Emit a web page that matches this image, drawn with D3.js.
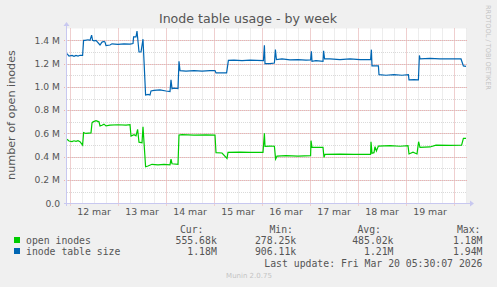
<!DOCTYPE html>
<html><head>
<meta charset="UTF-8">
<title>Inode table usage - by week</title>
<script src="https://cdnjs.cloudflare.com/ajax/libs/d3/7.8.5/d3.min.js"></script>
<style>
  body { margin: 0; background: #f0f0f0; }
  svg text { fill: #555; }
</style>
</head>
<body>
<div id="chart"></div>
<script>
// hours from 12 mar 00:00, value in millions
const openInodes = [
  [-1.5,0.55],[-0.5,0.535],[1,0.53],[2,0.537],[3,0.532],[4,0.538],[5,0.53],[6.3,0.50],[6.8,0.607],[8,0.60],[10.5,0.605],
  [11,0.69],[11.5,0.70],[13,0.71],[14.5,0.70],[15,0.665],[16,0.67],[17,0.68],[18,0.665],[20,0.672],[24,0.675],[28,0.672],
  [30,0.675],[30.5,0.578],[32,0.59],[33,0.58],[33.8,0.636],[34.5,0.525],[36,0.52],[36.5,0.658],[37.8,0.314],[39,0.32],
  [41,0.335],[44,0.33],[47,0.335],[50,0.33],[50.5,0.38],[51,0.34],[54,0.335],[54.5,0.587],[56,0.59],[62,0.585],[68,0.587],
  [72.5,0.585],[73,0.435],[76,0.432],[78.5,0.385],[79,0.438],[85,0.44],[90,0.437],[96.5,0.438],[97.2,0.601],[97.5,0.49],
  [100,0.492],[102.2,0.49],[102.8,0.38],[103.5,0.405],[108,0.41],[114,0.405],[120.3,0.41],[120.5,0.538],[121,0.481],
  [126.5,0.481],[127,0.395],[127.5,0.42],[135,0.422],[142,0.42],[150.3,0.421],[150.5,0.529],[151,0.43],[152,0.435],
  [152.5,0.487],[153.2,0.45],[154.2,0.492],[160,0.495],[165,0.49],[169,0.495],[169.5,0.424],[171.5,0.44],[173.5,0.424],
  [174.3,0.529],[175,0.481],[180,0.484],[183,0.50],[190,0.498],[195.8,0.50],[196.7,0.558],[198,0.558]
];
const tableSize = [
  [-1.5,1.285],[-0.5,1.265],[1,1.27],[2,1.262],[3,1.27],[4,1.265],[5,1.272],[6.3,1.27],[6.8,1.40],[7.5,1.40],[9,1.405],
  [10,1.40],[10.8,1.445],[11.3,1.40],[12,1.395],[13,1.40],[15,1.36],[16,1.385],[17,1.39],[17.5,1.385],[18,1.355],[20,1.36],
  [21,1.37],[24,1.365],[27,1.37],[30,1.368],[31.5,1.372],[31.8,1.43],[33,1.43],[33.5,1.48],[34.5,1.30],[35.5,1.30],
  [36.5,1.41],[37.8,0.93],[39,0.935],[40,0.93],[40.5,0.965],[42,0.97],[45,0.975],[48,0.965],[50,0.96],[50.5,1.06],
  [51,0.985],[52,0.99],[54,0.985],[54.5,1.22],[55,1.14],[58,1.135],[62,1.14],[66,1.135],[70,1.14],[72.5,1.14],[73,1.12],
  [76,1.12],[78.3,1.12],[79.2,1.228],[82,1.23],[86,1.225],[90,1.23],[96.7,1.225],[97.2,1.357],[97.5,1.20],[100,1.20],
  [102.2,1.205],[102.7,1.32],[103.2,1.235],[106,1.24],[110,1.232],[114,1.235],[118,1.23],[120.3,1.232],[120.7,1.305],
  [121,1.22],[123,1.225],[126.5,1.22],[126.8,1.31],[127.3,1.24],[130,1.24],[135,1.235],[140,1.24],[145,1.235],
  [150.3,1.235],[150.7,1.32],[151,1.18],[153,1.18],[154.2,1.18],[154.5,1.105],[158,1.10],[162,1.105],[166,1.10],
  [169.2,1.105],[169.5,1.06],[172,1.062],[174.2,1.06],[174.7,1.27],[175,1.24],[180,1.245],[185,1.24],[190,1.24],
  [195.5,1.24],[196.7,1.18],[198,1.177]
];
const yTicks = [0, 0.2, 0.4, 0.6, 0.8, 1.0, 1.2, 1.4];
const yTickLabels = ["0.0", "0.2 M", "0.4 M", "0.6 M", "0.8 M", "1.0 M", "1.2 M", "1.4 M"];
const dayLabels = ["12 mar", "13 mar", "14 mar", "15 mar", "16 mar", "17 mar", "18 mar", "19 mar"];
const legendNames = ["open inodes", "inode table size"];
const legendColors = ["#00cc00", "#0066b3"];
const curVals = ["555.68k", "1.18M"];
const minVals = ["278.25k", "906.11k"];
const avgVals = ["485.02k", "1.21M"];
const maxVals = ["1.18M", "1.94M"];

const W = 497, H = 287;
const t0 = new Date(2026, 2, 12, 0, 0);
const toDate = h => new Date(t0.getTime() + h * 3600e3);

const svg = d3.select("#chart").append("svg")
  .attr("width", W).attr("height", H)
  .style("font-family", "'DejaVu Sans', sans-serif");

const x = d3.scaleTime().domain([toDate(-1.5), toDate(198.5)]).range([67, 467]);
const y = d3.scaleLinear().domain([0, 1.5]).range([203.3, 28.7]);

svg.append("rect").attr("x", 67).attr("y", 28.5).attr("width", 400).attr("height", 175).attr("fill", "#fff");

// minor grid
const minorX = d3.timeHour.every(6).range(toDate(-1.5), toDate(198.5));
svg.append("g").selectAll("line").data(minorX).join("line")
  .attr("x1", d => Math.round(x(d)) + 0.5).attr("x2", d => Math.round(x(d)) + 0.5)
  .attr("y1", 28.5).attr("y2", 203.5)
  .attr("stroke", "#dadada").attr("stroke-dasharray", "1,1");
svg.append("g").selectAll("line").data(d3.range(1, 15).map(i => i / 10)).join("line")
  .attr("x1", 67).attr("x2", 467)
  .attr("y1", d => Math.round(y(d)) + 0.5).attr("y2", d => Math.round(y(d)) + 0.5)
  .attr("stroke", "#dadada").attr("stroke-dasharray", "1,1");

// major grid
const majorX = d3.timeDay.range(toDate(-1.5), toDate(198.5));
svg.append("g").selectAll("line").data(majorX).join("line")
  .attr("x1", d => Math.round(x(d)) + 0.5).attr("x2", d => Math.round(x(d)) + 0.5)
  .attr("y1", 28.5).attr("y2", 206)
  .attr("stroke", "#f0b0b0").attr("stroke-dasharray", "1,1");
svg.append("g").selectAll("line").data(yTicks.slice(1)).join("line")
  .attr("x1", 64).attr("x2", 467)
  .attr("y1", d => Math.round(y(d)) + 0.5).attr("y2", d => Math.round(y(d)) + 0.5)
  .attr("stroke", "#f0b0b0").attr("stroke-dasharray", "1,1");

// y labels
svg.append("g").selectAll("text").data(yTicks).join("text")
  .attr("x", 60).attr("y", d => y(d) + 3.3)
  .attr("text-anchor", "end").attr("font-size", 9.2)
  .text((d, i) => yTickLabels[i]);

// x labels at noon
svg.append("g").selectAll("text").data(dayLabels).join("text")
  .attr("x", (d, i) => x(toDate(i * 24 + 12)))
  .attr("y", 215)
  .attr("text-anchor", "middle").attr("font-size", 9.4)
  .text(d => d);

// series
const line = d3.line().x(d => x(toDate(d[0]))).y(d => y(d[1]));
svg.append("path").datum(openInodes).attr("d", line)
  .attr("fill", "none").attr("stroke", legendColors[0]).attr("stroke-width", 1.2);
svg.append("path").datum(tableSize).attr("d", line)
  .attr("fill", "none").attr("stroke", legendColors[1]).attr("stroke-width", 1.2);

// axes with arrows
const axisCol = "#c8c8f0";
svg.append("line").attr("x1", 64).attr("x2", 470).attr("y1", 203.5).attr("y2", 203.5).attr("stroke", axisCol);
svg.append("line").attr("x1", 66.5).attr("x2", 66.5).attr("y1", 206).attr("y2", 25).attr("stroke", axisCol);
svg.append("path").attr("d", "M470,200.5 L474,203.5 L470,206.5 Z").attr("fill", axisCol);
svg.append("path").attr("d", "M63.5,26 L66.5,22 L69.5,26 Z").attr("fill", axisCol);

// title
svg.append("text").attr("x", 248).attr("y", 22.5).attr("text-anchor", "middle")
  .attr("font-size", 12.6).text("Inode table usage - by week");

// y axis title
svg.append("text").attr("transform", "translate(15,115) rotate(-90)")
  .attr("text-anchor", "middle").attr("font-size", 11.2).text("number of open inodes");

// watermark
svg.append("text").attr("transform", "translate(485.5,5) rotate(90)")
  .attr("font-size", 6.6).style("fill", "#c4c4c4").text("RRDTOOL / TOBI OETIKER");

// legend
const mono = "'DejaVu Sans Mono', monospace";
const lg = svg.append("g").style("font-family", mono).attr("font-size", 9.8);
[["Cur:", 203.5], ["Min:", 293], ["Avg:", 381], ["Max:", 480.5]].forEach(h => {
  lg.append("text").attr("x", h[1]).attr("y", 232.5).attr("text-anchor", "end").text(h[0]);
});
legendNames.forEach((n, i) => {
  const yy = 243.5 + i * 11;
  lg.append("rect").attr("x", 14).attr("y", yy - 6.5).attr("width", 6).attr("height", 6).attr("fill", legendColors[i]);
  lg.append("text").attr("x", 26).attr("y", yy).text(n);
  lg.append("text").attr("x", 216.8).attr("y", yy).attr("text-anchor", "end").text(curVals[i]);
  lg.append("text").attr("x", 296.2).attr("y", yy).attr("text-anchor", "end").text(minVals[i]);
  lg.append("text").attr("x", 393.5).attr("y", yy).attr("text-anchor", "end").text(avgVals[i]);
  lg.append("text").attr("x", 482.5).attr("y", yy).attr("text-anchor", "end").text(maxVals[i]);
});
lg.append("text").attr("x", 482.5).attr("y", 266.5).attr("text-anchor", "end")
  .text("Last update: Fri Mar 20 05:30:07 2026");

svg.append("text").attr("x", 249).attr("y", 278.3).attr("text-anchor", "middle")
  .attr("font-size", 7).style("fill", "#c4c4c4").text("Munin 2.0.75");
</script>
</body></html>
